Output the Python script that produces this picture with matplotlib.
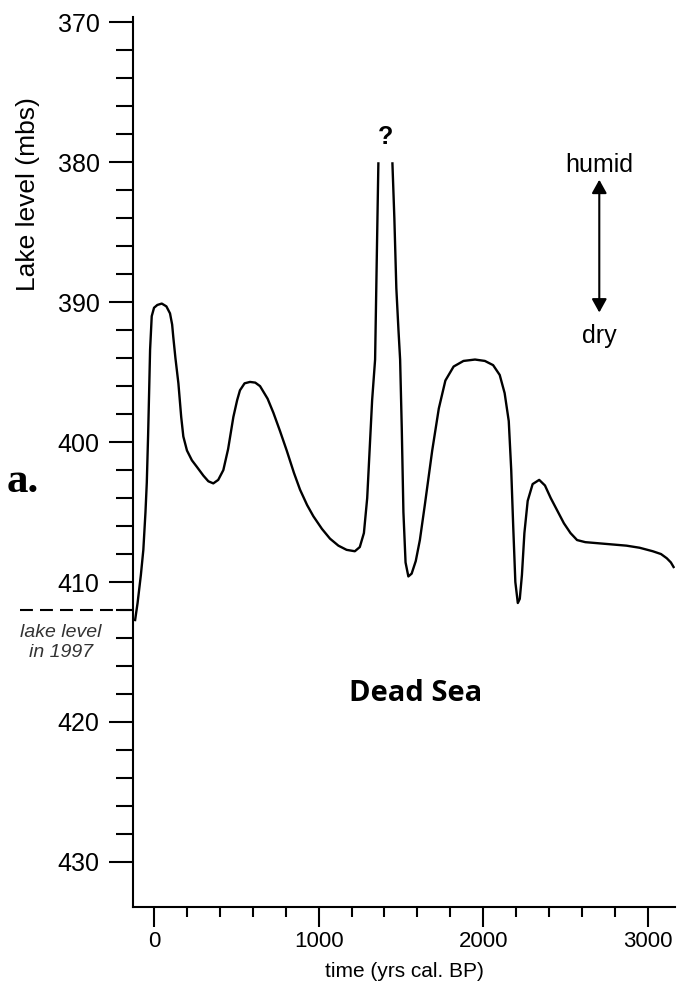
import matplotlib.pyplot as plt
from matplotlib.ticker import MultipleLocator, FixedLocator
from matplotlib.transforms import blended_transform_factory

plt.rcParams['font.family'] = ['Liberation Sans', 'DejaVu Sans']

# Dead Sea lake level (yrs cal. BP, metres below sea level)
# the curve is broken above 380 mbs, where the high stand is unknown
years_early = [-116, -100, -80, -65, -52, -44, -36, -30, -24, -14, 0, 20, 47, 75, 97,
               110, 117, 130, 148, 165, 178, 200, 230, 259, 300, 330, 360, 390, 421,
               450, 482, 505, 522, 550, 583, 615, 644, 690, 725, 765, 806, 850, 887,
               930, 968, 1020, 1069, 1120, 1170, 1220, 1250, 1275, 1295, 1310, 1325,
               1343, 1353, 1363]
level_early = [412.8, 411.5, 409.5, 407.7, 405.0, 402.9, 399.5, 396.5, 393.4, 391.0,
               390.4, 390.2, 390.1, 390.3, 390.8, 391.6, 392.5, 394.0, 395.8, 398.2,
               399.6, 400.6, 401.3, 401.75, 402.4, 402.8, 402.95, 402.7, 402.0, 400.5,
               398.2, 397.0, 396.3, 395.8, 395.7, 395.75, 396.0, 396.9, 397.9, 399.2,
               400.6, 402.2, 403.4, 404.5, 405.3, 406.2, 406.9, 407.4, 407.7, 407.8,
               407.5, 406.5, 404.0, 400.5, 397.0, 394.1, 387.0, 380.0]

years_late = [1448, 1460, 1472, 1485, 1495, 1505, 1515, 1528, 1545, 1565, 1590, 1615,
              1645, 1690, 1730, 1770, 1820, 1880, 1950, 2010, 2060, 2100, 2130, 2155,
              2170, 2182, 2195, 2210, 2222, 2235, 2250, 2270, 2300, 2340, 2375, 2410,
              2450, 2490, 2530, 2570, 2620, 2670, 2770, 2870, 2950, 3030, 3080, 3115,
              3140, 3160]
level_late = [380.0, 384.0, 389.0, 392.0, 394.1, 399.0, 405.0, 408.6, 409.6, 409.4,
              408.5, 407.0, 404.5, 400.6, 397.6, 395.6, 394.6, 394.2, 394.1, 394.2,
              394.5, 395.2, 396.5, 398.5, 402.0, 406.0, 410.0, 411.5, 411.2, 409.5,
              406.5, 404.2, 403.0, 402.7, 403.1, 404.0, 404.9, 405.8, 406.5, 407.0,
              407.15, 407.2, 407.3, 407.4, 407.55, 407.8, 408.0, 408.3, 408.6, 409.0]

lake_level_1997 = 412
unknown_year = 1405

fig = plt.figure(figsize=(6.78, 9.88), dpi=100)
ax = fig.add_axes([0.1966, 0.0823, 0.7985, 0.9008])

for xs, ys in [(years_early, level_early), (years_late, level_late)]:
    ax.plot(xs, ys, color='black', lw=1.7, solid_joinstyle='round',
            solid_capstyle='butt')

ax.set_xlim(-126, 3163)
ax.set_ylim(433.2, 369.6)

ax.spines['top'].set_visible(False)
ax.spines['right'].set_visible(False)
for side in ['left', 'bottom']:
    ax.spines[side].set_linewidth(1.5)

ax.xaxis.set_major_locator(MultipleLocator(1000))
ax.xaxis.set_minor_locator(MultipleLocator(200))
ax.yaxis.set_major_locator(MultipleLocator(10))
# the scale stops at 430, no minor ticks below it
ax.yaxis.set_minor_locator(FixedLocator(range(370, 431, 2)))

ax.tick_params(axis='y', which='major', direction='out', length=17.3, width=1.5,
               labelsize=18, pad=7)
ax.tick_params(axis='y', which='minor', direction='out', length=12.2, width=1.5)
ax.tick_params(axis='x', which='major', direction='out', length=14.4, width=1.5,
               labelsize=16, pad=3)
ax.tick_params(axis='x', which='minor', direction='out', length=7.2, width=1.5)

ax.set_xlabel('time (yrs cal. BP)', fontsize=15, va='center')
ax.xaxis.set_label_coords(0.5, -0.0727)
ax.set_ylabel('Lake level (mbs)', fontsize=19, va='center')
ax.yaxis.set_label_coords(-0.1954, 0.8008)

# present-day reference level, drawn out to the left of the axis
trans = blended_transform_factory(ax.transAxes, ax.transData)
ax.plot([-0.2093, 0], [lake_level_1997, lake_level_1997], transform=trans,
        clip_on=False, color='black', lw=1.5, ls=(0, (6.2, 3.4)))
fig.text(61 / 678, 1 - 636.7 / 988, 'lake level', fontsize=14, style='italic',
         ha='center', va='baseline', color='#333333')
fig.text(61 / 678, 1 - 656.7 / 988, 'in 1997', fontsize=14, style='italic',
         ha='center', va='baseline', color='#333333')

fig.text(7 / 678, 1 - 491.7 / 988, 'a.', fontsize=31, fontweight='bold',
         family='Liberation Serif', ha='left', va='baseline')

ax.text(unknown_year, 378.2, '?', fontsize=18, fontweight='bold',
        ha='center', va='center')

ax.annotate('', xy=(2705, 381.25), xytext=(2705, 390.74),
            arrowprops=dict(arrowstyle='<|-|>,head_length=0.45,head_width=0.25',
                            mutation_scale=18, lw=1.5, color='black',
                            shrinkA=0, shrinkB=0))
ax.text(2705, 380.72, 'humid', fontsize=18, ha='center', va='baseline')
ax.text(2705, 392.9, 'dry', fontsize=18, ha='center', va='baseline')

ax.text(1592, 418.0, 'Dead Sea', fontsize=21, fontweight='bold',
        family='Open Sans', ha='center', va='center')

fig.savefig('out.png', dpi=100)
